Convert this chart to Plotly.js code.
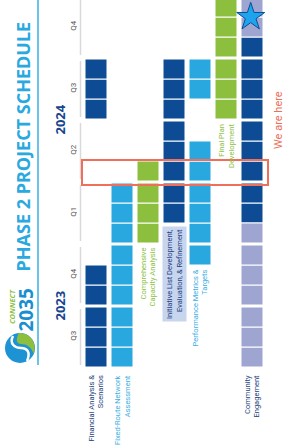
<!DOCTYPE html>
<html>
<head>
<meta charset="utf-8">
<script src="https://cdn.plot.ly/plotly-3.0.1.min.js"></script>
<style>
  html, body { margin: 0; padding: 0; background: #ffffff; }
  #chart { width: 284px; height: 446px; }
</style>
</head>
<body>
<div id="chart"></div>
<script>
// ---------------- DATA ----------------
const months = ['Jul 2023','Aug 2023','Sep 2023','Oct 2023','Nov 2023','Dec 2023',
                'Jan 2024','Feb 2024','Mar 2024','Apr 2024','May 2024','Jun 2024',
                'Jul 2024','Aug 2024','Sep 2024','Oct 2024','Nov 2024','Dec 2024'];
const quarterLabels = ['Q3','Q4','Q1','Q2','Q3','Q4'];
const yearLabels = ['2023','2024'];
const yearQuarterSpan = [[0,1],[2,5]];
const taskLabels = [
  'Financial Analysis &<br>Scenarios',
  'Fixed-Route Network<br>Assessment',
  'Comprehensive<br>Capacity Analysis',
  'Initiative List Development,<br>Evaluation, & Refinement',
  'Performance Metrics &<br>Targets',
  'Final Plan<br>Development',
  'Community<br>Engagement'
];
// D = dark blue, L = light blue, G = green, V = lavender, '' = nothing
const financialAnalysis   = ['D','D','D','D','D','','','','','','','','D','D','D','','',''];
const fixedRouteNetwork   = ['L','L','L','L','L','L','L','L','L','','','','','','','','',''];
const capacityAnalysis    = ['','','','','','','G','G','G','G','','','','','','','',''];
const initiativeList      = ['','','','','','','','D','D','D','D','D','D','D','D','','',''];
const performanceMetrics  = ['','','','','','L','L','L','L','L','L','','','L','L','','',''];
const finalPlan           = ['','','','','','','','','','','','','G','G','G','G','G','G'];
const communityEngagement = ['V','V','V','V','V','V','V','D','D','D','D','D','D','D','D','D','V','V'];
const currentMonth = 'Apr 2024';
const milestoneMonth = 'Nov 2024';
const hereText = 'We are here';
const titleText = 'PHASE 2 PROJECT SCHEDULE';

// ---------------- STYLE ----------------
const schedules = [financialAnalysis, fixedRouteNetwork, capacityAnalysis, initiativeList,
                   performanceMetrics, finalPlan, communityEngagement];
const fill = { D: '#0d4c95', L: '#29a8e0', G: '#8dbf3f', V: '#9fa5d1' };
const labelColor = ['#1c3f80','#3cb0e4','#8dbf3f','#1c3f80','#3cb0e4','#8dbf3f','#1c3f80'];
const labelBg = [null, null, null, '#c8d5ee', null, null, null];
const RED = '#ef6f5a';
const QGAP = 0.1;
const YMAX = 18.35;
const pos = m => m + Math.floor(m / 3) * QGAP;

const ML = 83, MT = 0, PW = 182, PH = 367;
const W = 284, H = 446;
const px2x = p => (p - ML) / PW;
const py2y = p => (MT + PH - p) / PH;
const d2py = v => v / YMAX;

// ---------------- TRACES ----------------
const traces = [];
['D','L','G','V'].forEach(code => {
  const xs = [], bs = [], ys = [];
  schedules.forEach((s, ti) => s.forEach((c, m) => {
    if (c === code) { xs.push(ti); bs.push(pos(m)); ys.push(1); }
  }));
  traces.push({
    type: 'bar', x: xs, y: ys, base: bs, width: 0.846,
    marker: { color: fill[code], line: { color: '#ffffff', width: 1 } },
    hoverinfo: 'skip', showlegend: false
  });
});
const mi = months.indexOf(milestoneMonth);
traces.push({
  type: 'scatter', mode: 'markers', x: [schedules.length - 1.05], y: [pos(mi) + 1],
  marker: { symbol: 'star', size: 21, color: '#1da4ec', line: { color: '#0d4c95', width: 1 } },
  cliponaxis: false, hoverinfo: 'skip', showlegend: false
});
const ci = months.indexOf(currentMonth);
traces.push({
  type: 'scatter', mode: 'markers', x: [7.0], y: [pos(ci) + 0.6],
  marker: { symbol: 'triangle-left', size: 12, color: RED },
  cliponaxis: false, hoverinfo: 'skip', showlegend: false
});

// ---------------- ANNOTATIONS ----------------
const annotations = [];
schedules.forEach((s, ti) => {
  const first = s.findIndex(c => c !== '');
  const a = {
    x: ti, xref: 'x', y: d2py(pos(first) - (first === 0 ? 0.3 : 0.15)), yref: 'paper',
    xanchor: 'center', yanchor: 'top', textangle: -90, align: 'right',
    text: taskLabels[ti], showarrow: false,
    font: { family: 'Roboto, sans-serif', size: 7.5, color: labelColor[ti] }
  };
  if (labelBg[ti]) { a.bgcolor = labelBg[ti]; a.borderpad = 2; }
  annotations.push(a);
});
yearLabels.forEach((y, i) => {
  const q0 = yearQuarterSpan[i][0], q1 = yearQuarterSpan[i][1];
  const yc = (pos(q0 * 3) + pos(q1 * 3 + 2) + 1) / 2;
  annotations.push({
    x: px2x(59.5), xref: 'paper', y: d2py(yc), yref: 'paper', xanchor: 'center', yanchor: 'middle',
    textangle: -90, showarrow: false,
    text: '<b>' + y + '</b>', font: { family: 'Open Sans, sans-serif', size: 13, color: '#17458f' }
  });
});
annotations.push({
  x: px2x(22.5), xref: 'paper', y: py2y(147), yref: 'paper', xanchor: 'center', yanchor: 'middle',
  textangle: -90, showarrow: false,
  text: '<b>' + titleText + '</b>', font: { family: 'Open Sans, sans-serif', size: 18, color: '#2aa9e0' }
});
annotations.push({
  x: px2x(278), xref: 'paper', y: py2y(120), yref: 'paper', xanchor: 'center', yanchor: 'middle',
  textangle: -90, showarrow: false,
  text: hereText, font: { family: 'Roboto, sans-serif', size: 11, color: RED }
});
annotations.push({
  x: px2x(12), xref: 'paper', y: py2y(307), yref: 'paper', xanchor: 'center', yanchor: 'middle',
  textangle: -90, showarrow: false,
  text: '<b><i>CONNECT</i></b>', font: { family: 'Open Sans, sans-serif', size: 7.5, color: '#8dbf3f' }
});
annotations.push({
  x: px2x(25.5), xref: 'paper', y: py2y(310), yref: 'paper', xanchor: 'center', yanchor: 'middle',
  textangle: -90, showarrow: false,
  text: '<b>2035</b>', font: { family: 'Open Sans, sans-serif', size: 19, color: '#1a8fd0' }
});

// ---------------- SHAPES ----------------
const shapes = [];
shapes.push({ type: 'line', xref: 'paper', yref: 'paper', x0: px2x(38), x1: px2x(38),
  y0: py2y(365), y1: py2y(0), line: { color: '#3aaee3', width: 1.5 } });
quarterLabels.forEach((q, qi) => {
  shapes.push({ type: 'line', xref: 'paper', yref: 'paper', x0: px2x(80.5), x1: px2x(80.5),
    y0: d2py(pos(qi * 3) + 0.1), y1: d2py(pos(qi * 3) + 2.9), line: { color: '#d9d9d9', width: 1.5 } });
});
shapes.push({ type: 'rect', xref: 'paper', yref: 'paper', x0: px2x(82), x1: px2x(268),
  y0: d2py(pos(ci) - 0.2), y1: d2py(pos(ci) + 1.05), line: { color: RED, width: 2 }, fillcolor: 'rgba(0,0,0,0)' });
// logo
const P = (x, y) => px2x(x) + ',' + py2y(y);
shapes.push({ type: 'circle', xref: 'paper', yref: 'paper', x0: px2x(5), x1: px2x(35),
  y0: py2y(363), y1: py2y(333), line: { width: 0 }, fillcolor: '#1e93d4' });
shapes.push({ type: 'path', xref: 'paper', yref: 'paper',
  path: 'M' + P(19, 333) + ' C' + P(30, 333) + ' ' + P(37, 342) + ' ' + P(34, 354) +
        ' C' + P(31, 347) + ' ' + P(27, 344) + ' ' + P(21, 344) +
        ' C' + P(17, 344) + ' ' + P(15, 340) + ' ' + P(19, 333) + ' Z',
  line: { width: 0 }, fillcolor: '#8dbf3f' });
shapes.push({ type: 'path', xref: 'paper', yref: 'paper',
  path: 'M' + P(13, 336) + ' C' + P(9, 344) + ' ' + P(15, 348) + ' ' + P(21, 348) +
        ' C' + P(27, 348) + ' ' + P(31, 352) + ' ' + P(27, 361),
  line: { width: 2.5, color: '#ffffff' } });

// ---------------- LAYOUT ----------------
const qTicks = quarterLabels.map((q, qi) => pos(qi * 3) + 1.5);
const layout = {
  width: W, height: H,
  margin: { l: ML, r: W - ML - PW, t: MT, b: H - MT - PH, pad: 0 },
  paper_bgcolor: '#ffffff', plot_bgcolor: '#ffffff',
  barmode: 'overlay', showlegend: false,
  xaxis: { range: [-0.5, 6.5], visible: false, fixedrange: true },
  yaxis: { range: [0, YMAX], tickvals: qTicks, ticktext: quarterLabels, tickangle: -90,
    showgrid: false, zeroline: false, showline: false, ticks: '', ticklabelstandoff: 4,
    tickfont: { family: 'Roboto, sans-serif', size: 8, color: '#555555' }, fixedrange: true },
  annotations: annotations, shapes: shapes
};
Plotly.newPlot('chart', traces, layout, { displayModeBar: false, staticPlot: true });
</script>
</body>
</html>
